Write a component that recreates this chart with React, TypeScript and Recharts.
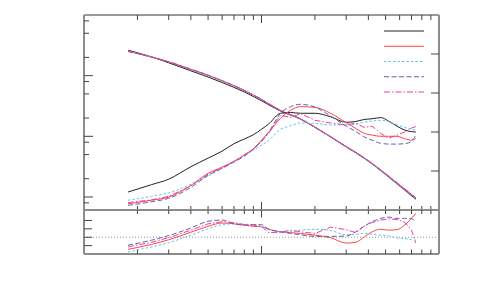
import { LineChart, Line, XAxis, YAxis, Legend, ReferenceLine } from "recharts";

// x grid of the falling curves (log axis, 1..100)
const xFall = [1.77, 2.4, 3, 4, 5, 6, 8, 10, 12.8, 16.6, 20, 30, 37.7, 47, 58, 74];
// x grid of the rising curves and of the ratio panel
const xRise = [1.77, 2.4, 3, 4, 5, 6, 7, 8, 9, 10, 11, 12.8, 14.6, 16.6, 20, 24.5, 30, 34, 37.7, 42, 47, 52, 58, 64, 70, 74];

// falling curves, left log axis
const fallBlack = [26.3, 20.4, 16.3, 12.0, 9.5, 7.7, 5.4, 3.85, 2.6, 1.92, 1.41, 0.67, 0.44, 0.272, 0.165, 0.092];
const fallRed = [25.2, 20.3, 16.8, 12.6, 10.1, 8.2, 5.7, 4.05, 2.67, 1.94, 1.42, 0.68, 0.447, 0.278, 0.17, 0.097];
const fallCyan = [25.5, 20.5, 16.9, 12.7, 10.1, 8.2, 5.7, 4.0, 2.64, 1.91, 1.4, 0.665, 0.436, 0.27, 0.163, 0.09];
const fallPurple = [25.0, 20.2, 16.9, 12.8, 10.2, 8.25, 5.72, 4.05, 2.66, 1.93, 1.41, 0.673, 0.443, 0.275, 0.166, 0.093];
const fallMagenta = [25.3, 20.4, 17.0, 12.8, 10.2, 8.3, 5.75, 4.06, 2.67, 1.93, 1.42, 0.68, 0.45, 0.28, 0.172, 0.098];

// rising curves, right linear axis
const riseBlack = [0.46, 0.65, 0.79, 1.11, 1.33, 1.51, 1.7, 1.82, 1.93, 2.07, 2.21, 2.48, 2.5, 2.48, 2.48, 2.39, 2.25, 2.27, 2.32, 2.34, 2.37, 2.28, 2.15, 2.05, 2.01, 2.0];
const riseRed = [0.16, 0.25, 0.33, 0.63, 0.94, 1.1, 1.25, 1.41, 1.57, 1.79, 2.0, 2.35, 2.56, 2.65, 2.63, 2.48, 2.24, 2.09, 1.97, 1.92, 1.89, 1.89, 1.89, 1.83, 1.79, 1.83];
const riseCyan = [0.25, 0.35, 0.44, 0.66, 0.87, 1.07, 1.24, 1.39, 1.53, 1.66, 1.79, 2.07, 2.16, 2.23, 2.22, 2.18, 2.18, 2.2, 2.25, 2.28, 2.3, 2.27, 2.18, 2.12, 2.07, 2.05];
const risePurple = [0.12, 0.21, 0.3, 0.58, 0.89, 1.07, 1.23, 1.38, 1.56, 1.76, 2.0, 2.48, 2.65, 2.71, 2.64, 2.41, 2.15, 2.01, 1.88, 1.79, 1.71, 1.69, 1.69, 1.7, 1.76, 1.92];
const riseMagenta = [0.19, 0.26, 0.35, 0.62, 0.92, 1.08, 1.24, 1.41, 1.56, 1.76, 1.97, 2.43, 2.37, 2.47, 2.3, 2.23, 2.18, 2.23, 2.12, 2.15, 1.96, 1.84, 1.92, 2.0, 2.1, 2.14];

// ratio panel
const ratioRed = [0.71, 0.83, 0.94, 1.12, 1.26, 1.34, 1.32, 1.29, 1.26, 1.25, 1.19, 1.13, 1.11, 1.09, 1.05, 0.99, 0.86, 0.88, 1.0, 1.13, 1.19, 1.17, 1.18, 1.29, 1.45, 1.57];
const ratioCyan = [0.65, 0.77, 0.87, 1.05, 1.2, 1.3, 1.32, 1.31, 1.3, 1.25, 1.19, 1.13, 1.13, 1.17, 1.19, 1.16, 1.06, 1.07, 1.09, 1.07, 1.05, 1.03, 0.98, 0.97, 0.94, 0.93];
const ratioPurple = [0.81, 0.93, 1.04, 1.22, 1.38, 1.41, 1.32, 1.29, 1.3, 1.3, 1.19, 1.13, 1.09, 1.06, 1.02, 1.02, 1.03, 1.13, 1.26, 1.37, 1.45, 1.48, 1.45, 1.45, 1.44, 1.37];
const ratioMagenta = [0.77, 0.88, 0.99, 1.17, 1.32, 1.37, 1.35, 1.3, 1.29, 1.26, 1.11, 1.12, 1.17, 1.13, 1.09, 1.24, 1.18, 1.11, 1.26, 1.35, 1.41, 1.44, 1.42, 1.36, 1.17, 0.86];

// tick values
const xTicks = [2, 3, 4, 5, 6, 7, 8, 9, 10, 20, 30, 40, 50, 60, 70, 80, 90];
const logTicks = [0.08, 0.1, 0.2, 0.5, 0.8, 1, 2, 5, 8, 10, 20, 50, 80];
const rightTicks = [1, 2, 3, 4];
const ratioTicks = [0.8, 1, 1.2, 1.4];

const COLORS = { black: "#222222", red: "#ff4646", cyan: "#5ec4ec", purple: "#6262b4", magenta: "#f23c9e" };
const DASH = { black: undefined, red: undefined, cyan: "2.5 2", purple: "5 2.5", magenta: "6 2 1.5 2" };
const KEYS = ["black", "red", "cyan", "purple", "magenta"] as const;

const FRAME = "#8c8c8c";

const pts = (xs: number[], ys: number[]) => xs.map((x, i) => ({ x, y: ys[i] }));

const isDecade = (v: number) => v === 0.1 || v === 1 || v === 10 || v === 100;

// draws a tick mark pointing into the frame
const mkTick = (dir: "up" | "down" | "left" | "right", major: number, minor: number) => (p: any) => {
  const len = isDecade(p.payload.value) ? major : minor;
  const x2 = dir === "right" ? p.x + len : dir === "left" ? p.x - len : p.x;
  const y2 = dir === "down" ? p.y + len : dir === "up" ? p.y - len : p.y;
  return <line x1={p.x} y1={p.y} x2={x2} y2={y2} stroke="#444" strokeWidth={1} />;
};

const LegendLines = () => (
  <svg width={40} height={100}>
    {KEYS.map((k, i) => (
      <line key={k} x1={0} x2={40} y1={7 + i * 15.25} y2={7 + i * 15.25} stroke={COLORS[k]} strokeDasharray={DASH[k]} strokeWidth={1} />
    ))}
  </svg>
);

const falls = { black: fallBlack, red: fallRed, cyan: fallCyan, purple: fallPurple, magenta: fallMagenta };
const rises = { black: riseBlack, red: riseRed, cyan: riseCyan, purple: risePurple, magenta: riseMagenta };
const ratios = { red: ratioRed, cyan: ratioCyan, purple: ratioPurple, magenta: ratioMagenta };

export default function App() {
  const axisX = { type: "number" as const, scale: "log" as const, domain: [1, 100], allowDataOverflow: true, ticks: xTicks, interval: 0, tickSize: 0, tickMargin: 0, tickLine: false, height: 1, dataKey: "x" };
  const axisY = { type: "number" as const, allowDataOverflow: true, interval: 0, width: 1, tickSize: 0, tickMargin: 0, tickLine: false };
  return (
    <div style={{ position: "absolute", left: 0, top: 0, width: 500, height: 300, background: "#fff" }}>
      <div style={{ position: "absolute", left: 0, top: 0 }}>
        <LineChart width={500} height={211} margin={{ top: 14, right: 60, bottom: 0, left: 83 }}>
          <XAxis {...axisX} xAxisId="b" orientation="bottom" axisLine={{ stroke: FRAME, strokeWidth: 2 }} tick={mkTick("up", 8, 4)} />
          <XAxis {...axisX} xAxisId="t" orientation="top" axisLine={{ stroke: "#333", strokeWidth: 1 }} tick={mkTick("down", 8, 5)} />
          <YAxis {...axisY} yAxisId="l" orientation="left" scale="log" domain={[0.061, 100]} ticks={logTicks} axisLine={{ stroke: FRAME, strokeWidth: 2 }} tick={mkTick("right", 9, 5)} />
          <YAxis {...axisY} yAxisId="r" orientation="right" domain={[0, 5]} ticks={rightTicks} axisLine={{ stroke: FRAME, strokeWidth: 2 }} tick={mkTick("left", 8, 8)} />
          <Legend layout="horizontal" verticalAlign="middle" align="center" content={LegendLines} wrapperStyle={{ position: "absolute", left: 384, top: 24, width: 40, height: 100 }} />
          {KEYS.map((k) => (
            <Line key={"f" + k} data={pts(xFall, falls[k])} dataKey="y" xAxisId="b" yAxisId="l" type="monotone" stroke={COLORS[k]} strokeDasharray={DASH[k]} strokeWidth={1} dot={false} isAnimationActive={false} />
          ))}
          {KEYS.map((k) => (
            <Line key={"r" + k} data={pts(xRise, rises[k])} dataKey="y" xAxisId="b" yAxisId="r" type={k === "magenta" ? "linear" : "monotone"} stroke={COLORS[k]} strokeDasharray={DASH[k]} strokeWidth={1} dot={false} isAnimationActive={false} />
          ))}
        </LineChart>
      </div>
      <div style={{ position: "absolute", left: 0, top: 209 }}>
        <LineChart width={500} height={46} margin={{ top: 0, right: 60, bottom: 0, left: 83 }}>
          <XAxis {...axisX} xAxisId="b" orientation="bottom" axisLine={{ stroke: FRAME, strokeWidth: 2 }} tick={mkTick("up", 8, 4.5)} />
          <XAxis {...axisX} xAxisId="t" orientation="top" axisLine={{ stroke: FRAME, strokeWidth: 2 }} tick={mkTick("down", 7.5, 4)} />
          <YAxis {...axisY} yAxisId="l" orientation="left" domain={[0.6, 1.65]} ticks={ratioTicks} axisLine={{ stroke: FRAME, strokeWidth: 2 }} tick={mkTick("right", 8, 8)} />
          <YAxis {...axisY} yAxisId="rr" orientation="right" domain={[0.6, 1.65]} ticks={[]} tick={false} axisLine={{ stroke: FRAME, strokeWidth: 2 }} />
          <ReferenceLine xAxisId="b" yAxisId="l" y={1} stroke="#999" strokeDasharray="1 2" strokeWidth={1} />
          {(["red", "cyan", "purple", "magenta"] as const).map((k) => (
            <Line key={"q" + k} data={pts(xRise, ratios[k])} dataKey="y" xAxisId="b" yAxisId="l" type={k === "magenta" ? "linear" : "monotone"} stroke={COLORS[k]} strokeDasharray={DASH[k]} strokeWidth={1} dot={false} isAnimationActive={false} />
          ))}
        </LineChart>
      </div>
    </div>
  );
}
